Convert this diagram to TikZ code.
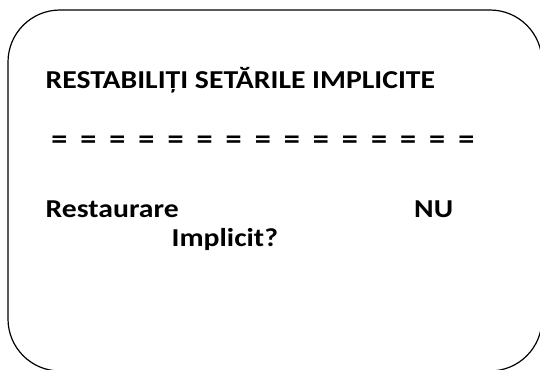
\documentclass[tikz,border=0pt]{standalone}
\usepackage{fontspec}
\setmainfont{Carlito}[FakeStretch=1.15]
\usetikzlibrary{positioning}
\tikzset{
    ecran/.style={font=\fontsize{25.8}{28}\selectfont\bfseries, inner sep=0pt, anchor=base west},
    egal/.style={font=\fontsize{28}{30}\selectfont\bfseries, inner sep=0pt, anchor=center}
}
\begin{document}
\begin{tikzpicture}[x=1pt, y=-1pt]
    \useasboundingbox (0,0) rectangle (540,369);

    % CADRE DE L'ECRAN
    \begin{scope}
        \clip (0,0) rectangle (540,369);
        \draw[line width=1.2pt, rounded corners=52pt] (8,10) rectangle (542,371);
    \end{scope}

    % TITRE
    \node[ecran] (titre) at (45.5,88.7) {RESTABILIȚI SETĂRILE IMPLICITE};

    % LIGNE DE SEPARATION
    \foreach \i in {0,...,14} {
        \node[egal] (egal\i) at (59.3+29.07*\i,142.3) {=};
    }

    % QUESTION ET REPONSE
    \node[ecran] (question) at (45.5,217) {Restaurare};
    \node[ecran] (implicit) at (171.5,246.5) {Implicit?};
    \node[ecran] (reponse) at (414,217) {NU};

\end{tikzpicture}
\end{document}
